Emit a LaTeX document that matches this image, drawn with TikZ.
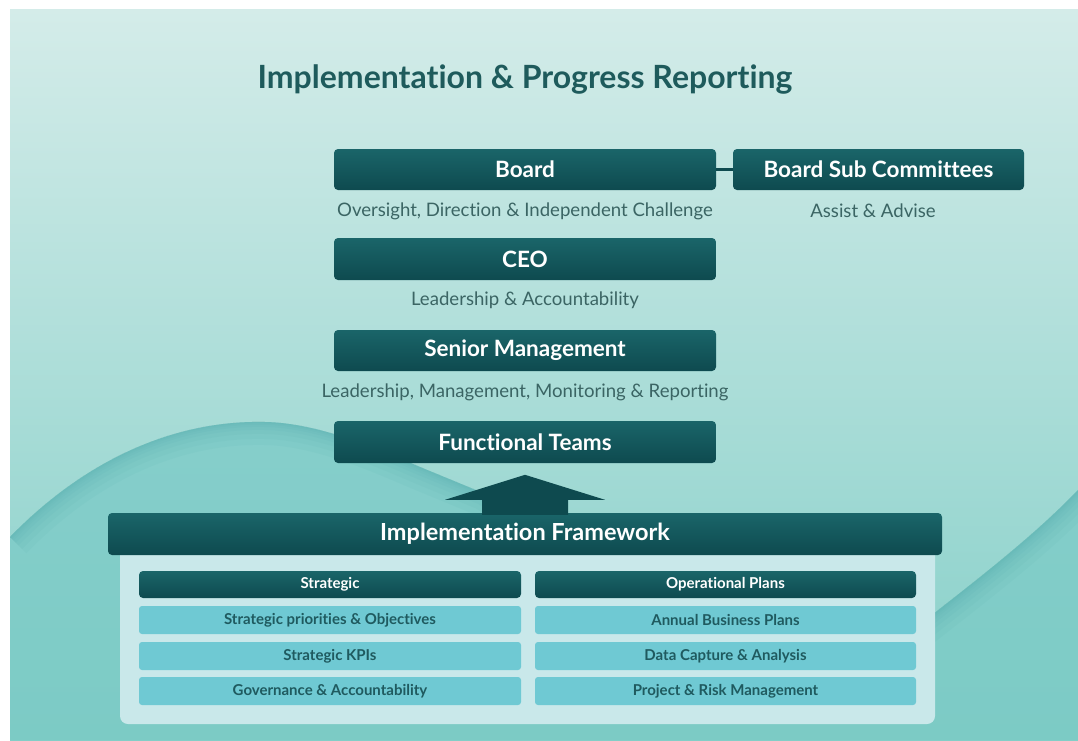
\documentclass[tikz,border=0pt]{standalone}
\usepackage{fontspec}
\setmainfont{Lato}[Ligatures=NoCommon]
\usetikzlibrary{calc}
\definecolor{bgtop}{HTML}{D4ECE9}
\definecolor{bgmid}{HTML}{B0DFDB}
\definecolor{bgbot}{HTML}{84CFC8}
\definecolor{hilltop}{HTML}{86CECB}
\definecolor{hillbot}{HTML}{7CCBC5}
\definecolor{hilledge}{HTML}{4AA5A8}
\definecolor{darktop}{HTML}{1A6569}
\definecolor{darkbot}{HTML}{0E4A4F}
\definecolor{titlecol}{HTML}{1E5B5C}
\definecolor{subcol}{HTML}{3B6564}
\definecolor{panelcol}{HTML}{C9E8EA}
\definecolor{rowcol}{HTML}{6FC9D3}
\definecolor{rowtext}{HTML}{1F5A5F}
\begin{document}
\begin{tikzpicture}[x=1pt,y=-1pt,
  darkbox/.style={rounded corners=4pt, top color=darktop, bottom color=darkbot,
    draw=none, text=white, font=\fontsize{22.5}{26}\selectfont\bfseries,
    inner sep=0pt, minimum width=382pt, minimum height=41pt},
  headbox/.style={darkbox, font=\fontsize{15}{17}\selectfont\bfseries,
    minimum height=27pt},
  rowbox/.style={rounded corners=3pt, fill=rowcol, draw=none, text=rowtext,
    font=\fontsize{15}{17}\selectfont\bfseries, inner sep=0pt,
    minimum width=382pt, minimum height=28pt},
  subtext/.style={text=subcol, font=\fontsize{18.6}{22}\selectfont, inner sep=0pt},
  linkline/.style={draw=darkbot, line width=3pt}
]
\useasboundingbox (0,0) rectangle (1078,740);
\fill[white] (0,0) rectangle (1078,740);
\shade[top color=bgtop, middle color=bgmid, bottom color=bgbot] (10,9) rectangle (1078,740);
% hill
\def\hillpath{(10,537) .. controls (90,455) and (180,420) .. (265,422)
  .. controls (320,423) and (380,450) .. (420,467) -- (483,493) -- (560,540)
  -- (900,640) .. controls (970,585) and (1030,540) .. (1078,490)
  -- (1078,740) -- (10,740) -- cycle}
\shade[top color=hilltop, bottom color=hillbot] \hillpath;
\begin{scope}
  \clip \hillpath;
  \foreach \w in {3,6,10,16,24,34,46} {
    \draw[hilledge, opacity=0.07, line width=\w pt] (10,537) .. controls (90,455) and (180,420) .. (265,422)
      .. controls (320,423) and (380,450) .. (420,467) -- (483,493) -- (560,540);
    \draw[hilledge, opacity=0.07, line width=\w pt] (900,640) .. controls (970,585) and (1030,540) .. (1078,490);
  }
\end{scope}

% title
\node[text=titlecol, font=\fontsize{32}{38}\selectfont\bfseries, inner sep=0pt] (title) at (525,79) {Implementation \& Progress Reporting};

% hierarchy
\node[darkbox] (board) at (525,169.5) {Board};
\node[darkbox, minimum width=291pt] (sub) at (878.5,169.5) {Board Sub Committees};
\draw[linkline] (board.east) -- (sub.west);
\node[subtext] (boardtxt) at (525,211) {Oversight, Direction \& Independent Challenge};
\node[subtext] (subtxt) at (873,211) {Assist \& Advise};
\node[darkbox, minimum height=42pt] (ceo) at (525,259) {CEO};
\node[subtext] (ceotxt) at (525,300) {Leadership \& Accountability};
\node[darkbox] (senior) at (525,350.5) {Senior Management};
\node[subtext] (seniortxt) at (525,392) {Leadership, Management, Monitoring \& Reporting};
\node[darkbox, minimum height=42pt] (teams) at (525,442) {Functional Teams};

% framework panel
\fill[panelcol, rounded corners=8pt] (120,540) rectangle (935,724);
\node[darkbox, minimum width=834pt, minimum height=42pt, font=\fontsize{23.5}{27}\selectfont\bfseries] (fw) at (525,534) {Implementation Framework};

% block arrow
\fill[darkbot] ($(fw.north)+(-43,2)$) -- ($(fw.north)+(-43,-13)$) -- ($(fw.north)+(-80,-13)$)
  -- ($(fw.north)+(0,-38)$) -- ($(fw.north)+(80,-13)$) -- ($(fw.north)+(43,-13)$)
  -- ($(fw.north)+(43,2)$) -- cycle;

\node[headbox] (strat) at (330,584.5) {Strategic};
\node[headbox, minimum width=381pt] (oper) at (725.5,584.5) {Operational Plans};
\node[rowbox] (s1) at (330,620) {Strategic priorities \& Objectives};
\node[rowbox] (s2) at (330,656) {Strategic KPIs};
\node[rowbox] (s3) at (330,691) {Governance \& Accountability};
\node[rowbox, minimum width=381pt] (o1) at (725.5,620) {Annual Business Plans};
\node[rowbox, minimum width=381pt] (o2) at (725.5,656) {Data Capture \& Analysis};
\node[rowbox, minimum width=381pt] (o3) at (725.5,691) {Project \& Risk Management};
\end{tikzpicture}
\end{document}
